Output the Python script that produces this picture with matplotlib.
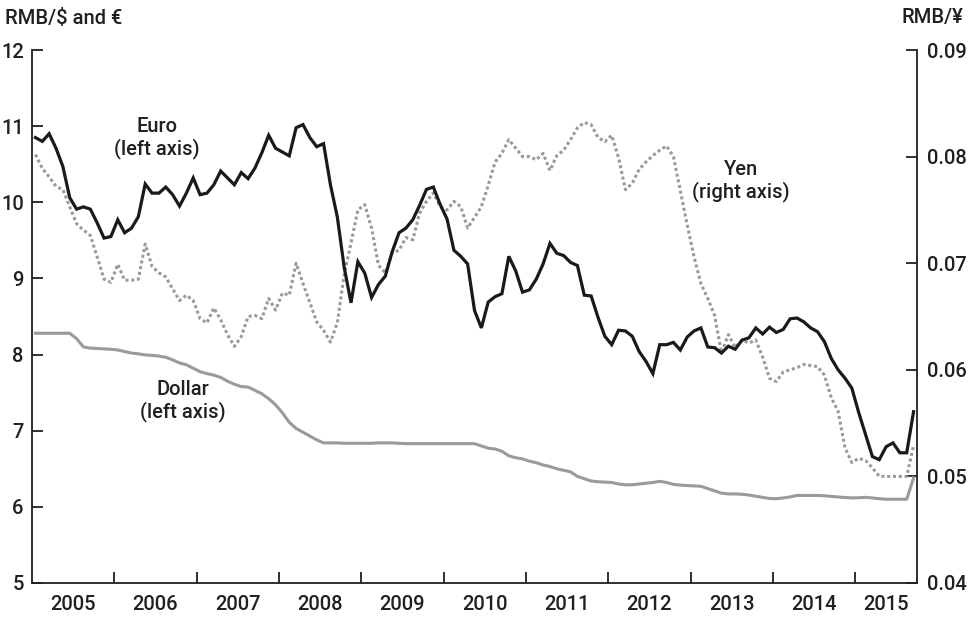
import numpy as np
import matplotlib
matplotlib.use("Agg")
import matplotlib.pyplot as plt
from matplotlib.ticker import FixedLocator, NullFormatter, FuncFormatter

plt.rcParams['font.family'] = ['Roboto', 'DejaVu Sans']

# Monthly data, Jan 2005 .. Sep 2015
start_year = 2005
euro = [10.85, 10.80, 10.90, 10.71, 10.47, 10.06, 9.91, 9.94, 9.91, 9.73, 9.53, 9.55,
        9.77, 9.60, 9.66, 9.81, 10.24, 10.12, 10.12, 10.20, 10.10, 9.95, 10.12, 10.32,
        10.10, 10.12, 10.23, 10.41, 10.32, 10.23, 10.39, 10.31, 10.45, 10.65, 10.88, 10.71,
        10.66, 10.61, 10.98, 11.02, 10.85, 10.73, 10.77, 10.23, 9.81, 9.15, 8.68, 9.22,
        9.07, 8.75, 8.92, 9.03, 9.35, 9.60, 9.66, 9.77, 9.96, 10.17, 10.20, 9.97,
        9.78, 9.37, 9.29, 9.19, 8.58, 8.35, 8.69, 8.76, 8.80, 9.29, 9.10, 8.82,
        8.85, 8.99, 9.19, 9.46, 9.33, 9.30, 9.21, 9.17, 8.78, 8.77, 8.49, 8.24,
        8.13, 8.32, 8.31, 8.24, 8.04, 7.91, 7.75, 8.13, 8.13, 8.16, 8.06, 8.23,
        8.31, 8.35, 8.10, 8.09, 8.02, 8.11, 8.07, 8.19, 8.22, 8.35, 8.27, 8.36,
        8.29, 8.33, 8.47, 8.48, 8.43, 8.35, 8.30, 8.17, 7.95, 7.80, 7.69, 7.56,
        7.24, 6.95, 6.66, 6.62, 6.79, 6.84, 6.71, 6.71, 7.25]

dollar = [8.28, 8.28, 8.28, 8.28, 8.28, 8.28, 8.21, 8.10, 8.085, 8.08, 8.076, 8.07,
          8.06, 8.04, 8.02, 8.01, 7.995, 7.99, 7.98, 7.965, 7.93, 7.89, 7.866, 7.82,
          7.775, 7.75, 7.73, 7.70, 7.65, 7.61, 7.58, 7.573, 7.53, 7.486, 7.42, 7.34,
          7.235, 7.11, 7.03, 6.98, 6.93, 6.88, 6.84, 6.84, 6.84, 6.835, 6.835, 6.835,
          6.835, 6.835, 6.84, 6.84, 6.84, 6.835, 6.83, 6.83, 6.83, 6.83, 6.83, 6.83,
          6.83, 6.83, 6.83, 6.83, 6.83, 6.80, 6.77, 6.76, 6.73, 6.67, 6.645, 6.63,
          6.60, 6.58, 6.55, 6.53, 6.50, 6.48, 6.46, 6.40, 6.37, 6.34, 6.33, 6.325,
          6.32, 6.30, 6.29, 6.29, 6.30, 6.31, 6.32, 6.335, 6.32, 6.295, 6.285, 6.28,
          6.275, 6.27, 6.24, 6.21, 6.18, 6.17, 6.17, 6.165, 6.155, 6.14, 6.125, 6.11,
          6.107, 6.117, 6.13, 6.15, 6.15, 6.15, 6.15, 6.145, 6.137, 6.13, 6.123, 6.118,
          6.12, 6.125, 6.117, 6.107, 6.10, 6.10, 6.10, 6.10, 6.38]

yen = [0.0802, 0.0789, 0.0781, 0.0772, 0.0769, 0.0753, 0.0737, 0.0731, 0.0726, 0.0706, 0.0685, 0.0682,
       0.0699, 0.0684, 0.0684, 0.0685, 0.0718, 0.0697, 0.0691, 0.0687, 0.0676, 0.0665, 0.0670, 0.0665,
       0.0648, 0.0644, 0.0658, 0.0647, 0.0633, 0.0622, 0.0631, 0.0650, 0.0651, 0.0648, 0.0667, 0.0656,
       0.0672, 0.0670, 0.0700, 0.0681, 0.0663, 0.0645, 0.0637, 0.0626, 0.0644, 0.0689, 0.0719, 0.0750,
       0.0755, 0.0733, 0.0698, 0.0691, 0.0710, 0.0712, 0.0724, 0.0722, 0.0747, 0.0758, 0.0766, 0.0753,
       0.0750, 0.0758, 0.0753, 0.0733, 0.0743, 0.0753, 0.0773, 0.0795, 0.0803, 0.0816, 0.0808, 0.0800,
       0.0800, 0.0797, 0.0803, 0.0787, 0.0801, 0.0806, 0.0816, 0.0827, 0.0832, 0.0830, 0.0818, 0.0814,
       0.0820, 0.0799, 0.0769, 0.0775, 0.0788, 0.0795, 0.0801, 0.0806, 0.0810, 0.0800, 0.0768, 0.0736,
       0.0706, 0.0681, 0.0667, 0.0651, 0.0616, 0.0633, 0.0621, 0.0628, 0.0625, 0.0628, 0.0612, 0.0592,
       0.0589, 0.0598, 0.0600, 0.0602, 0.0605, 0.0604, 0.0603, 0.0595, 0.0574, 0.0561, 0.0527, 0.0513,
       0.0517, 0.0515, 0.0508, 0.0500, 0.0500, 0.0500, 0.0500, 0.0500, 0.0529]

year_labels = ['2005', '2006', '2007', '2008', '2009', '2010',
               '2011', '2012', '2013', '2014', '2015']
left_ticks = [5, 6, 7, 8, 9, 10, 11, 12]
right_ticks = [0.04, 0.05, 0.06, 0.07, 0.08, 0.09]

n = len(euro)
t = start_year + (np.arange(n) + 0.5) / 12.0
x_end = 2015.75

AX = '#231f20'
GRAY = '#9a9a9a'
FS = 14.5
LFS = 14.5

fig = plt.figure(figsize=(9.71, 6.17), dpi=100)
ax = fig.add_axes([32/971, 1 - 583/617, (917 - 32)/971, (583 - 50)/617])
ax2 = ax.twinx()

ax.plot(t, dollar, color=GRAY, lw=2.2, solid_joinstyle='round', zorder=3)
ax2.plot(t, yen, color=GRAY, lw=2.2, linestyle=(0, (1, 0.9)), zorder=2)
ax.plot(t, euro, color='#1a1a1a', lw=2.3, solid_joinstyle='miter', zorder=4)

ax.set_zorder(ax2.get_zorder() + 1)
ax.patch.set_visible(False)

ax.set_xlim(start_year, x_end)
ax.set_ylim(5, 12)
ax2.set_ylim(0.04, 0.09)

for a in (ax, ax2):
    a.spines['top'].set_visible(False)
    for s in ('left', 'right', 'bottom'):
        a.spines[s].set_color(AX)
        a.spines[s].set_linewidth(1.3)

ax.spines['right'].set_visible(False)
ax2.spines['left'].set_visible(False)
ax2.spines['bottom'].set_visible(False)

ax.yaxis.set_major_locator(FixedLocator(left_ticks))
ax.yaxis.set_major_formatter(FuncFormatter(lambda v, p: f"{v:.0f}"))
ax2.yaxis.set_major_locator(FixedLocator(right_ticks))
ax2.yaxis.set_major_formatter(FuncFormatter(lambda v, p: f"{v:.2f}"))

years = [int(y) for y in year_labels]
ax.xaxis.set_major_locator(FixedLocator(years[1:]))
ax.xaxis.set_major_formatter(NullFormatter())
label_pos = [y + 0.5 for y in years[:-1]] + [(years[-1] + x_end) / 2]
ax.set_xticks(label_pos, minor=True)
ax.set_xticklabels(year_labels, minor=True)

ax.tick_params(axis='x', which='major', direction='in', length=8, width=1.3, color=AX)
ax.tick_params(axis='x', which='minor', length=0, pad=9, labelsize=FS, labelcolor=AX)
ax.tick_params(axis='y', direction='in', length=8, width=1.3, color=AX, pad=6,
               labelsize=FS, labelcolor=AX)
ax2.tick_params(axis='y', direction='in', length=8, width=1.3, color=AX, pad=7,
                labelsize=FS, labelcolor=AX)
for lab in ax.get_yticklabels() + ax2.get_yticklabels() + ax.get_xticklabels(minor=True):
    lab.set_fontweight('medium')

fig.text(5/971, 1 - 18/617, 'RMB/$ and €', ha='left', va='center', fontsize=LFS,
         color=AX, fontweight='medium')
fig.text(963/971, 1 - 18/617, 'RMB/¥', ha='right', va='center', fontsize=LFS,
         color=AX, fontweight='medium')

ax.text(2006.52, 10.84, 'Euro\n(left axis)', ha='center', va='center', fontsize=LFS,
        color=AX, linespacing=1.15, fontweight='medium')
ax.text(2006.83, 7.39, 'Dollar\n(left axis)', ha='center', va='center', fontsize=LFS,
        color=AX, linespacing=1.15, fontweight='medium')
ax.text(2013.61, 10.28, 'Yen\n(right axis)', ha='center', va='center', fontsize=LFS,
        color=AX, linespacing=1.15, fontweight='medium')

fig.savefig('out.png', dpi=100)
